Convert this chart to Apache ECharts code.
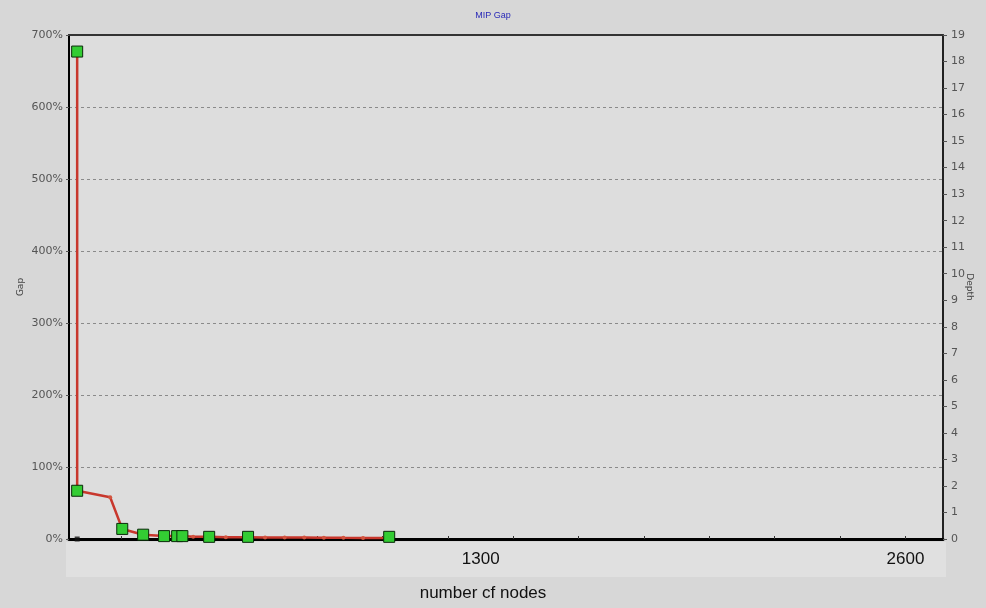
<!DOCTYPE html>
<html>
<head>
<meta charset="utf-8">
<script src="https://cdn.jsdelivr.net/npm/echarts@6/dist/echarts.min.js"></script>
<style>
html,body{margin:0;padding:0;background:#d7d7d7;}
#c{width:986px;height:608px;}
</style>
</head>
<body>
<div id="c"></div>
<script>
// ---- data ----
var lineNodes = [65, 65, 166, 203, 267, 331, 371, 387, 420, 469, 520, 588, 640, 700, 760, 820, 880, 940, 1020];
var lineGap   = [677, 67, 58, 14, 6, 4, 4, 4, 3, 3, 2.5, 2.5, 2, 2, 2, 1.8, 1.6, 1.5, 1.5];
var markerNodes = [65, 65, 203, 267, 331, 371, 387, 469, 588, 1020];
var markerGap   = [677, 67, 14, 6, 4, 4, 4, 3, 3, 3];
var depthNodes = [65];
var depthValues = [0];
var xTickValues = [200, 400, 600, 800, 1000, 1200, 1400, 1600, 1800, 2000, 2200, 2400, 2600];
var xLabelValues = [1300, 2600];
var gapTicks = [0, 100, 200, 300, 400, 500, 600, 700];
var depthTicks = [0,1,2,3,4,5,6,7,8,9,10,11,12,13,14,15,16,17,18,19];

function pairs(xs, ys){ return xs.map(function(x,i){ return [x, ys[i]]; }); }

var chart = echarts.init(document.getElementById('c'));
chart.setOption({
  backgroundColor: '#d7d7d7',
  animation: false,
  title: {
    text: 'MIP Gap', left: 'center', top: 6,
    textStyle: {fontSize: 9, fontWeight: 'normal', color: '#2a2ab8', fontFamily: 'Liberation Sans'}
  },
  graphic: [
    {type: 'rect', silent: true, z: -1, shape: {x: 66, y: 542, width: 880, height: 35}, style: {fill: '#e0e0e0'}},
    {type: 'text', silent: true, x: 483, y: 593, style: {text: 'number cf nodes', fontSize: 17, fontFamily: 'Liberation Sans', fill: '#111', align: 'center', verticalAlign: 'middle'}}
  ],
  grid: {left: 69, right: 43, top: 35, bottom: 69, show: true, backgroundColor: '#dddddd', borderWidth: 0,
    containLabel: false, outerBoundsMode: 'none'},
  xAxis: [{
    type: 'value', min: 40, max: 2715, position: 'bottom',
    axisLine: {show: true, lineStyle: {color: '#000', width: 3}},
    axisTick: {show: true, inside: true, length: 3, customValues: xTickValues, lineStyle: {color: '#333'}},
    axisLabel: {show: true, customValues: xLabelValues, fontSize: 17, color: '#111', fontFamily: 'Liberation Sans', margin: 12,
      formatter: function(v){ return String(v); }},
    splitLine: {show: false}
  }, {
    type: 'value', min: 40, max: 2715, position: 'top',
    axisLine: {show: true, onZero: false, lineStyle: {color: '#333', width: 2}},
    axisTick: {show: false}, axisLabel: {show: false}, splitLine: {show: false}
  }],
  yAxis: [{
    type: 'value', min: 0, max: 700, interval: 100, position: 'left',
    name: 'Gap', nameLocation: 'middle', nameGap: 44, nameRotate: 90, nameMoveOverlap: false,
    nameTextStyle: {fontSize: 9, color: '#444', fontFamily: 'DejaVu Sans'},
    axisLine: {show: true, lineStyle: {color: '#000', width: 2}},
    axisTick: {show: true, length: 3, lineStyle: {color: '#555'}},
    axisLabel: {fontSize: 11, color: '#555', fontFamily: 'DejaVu Sans', margin: 6,
      formatter: function(v){ return v + '%'; }},
    splitLine: {show: true, lineStyle: {color: '#8a8a8a', width: 1, type: [3, 3]}}
  }, {
    type: 'value', min: 0, max: 19, interval: 1, position: 'right',
    name: 'Depth', nameLocation: 'middle', nameGap: 22, nameRotate: -90, nameMoveOverlap: false,
    nameTextStyle: {fontSize: 9, color: '#444', fontFamily: 'DejaVu Sans'},
    axisLine: {show: true, lineStyle: {color: '#222', width: 2}},
    axisTick: {show: true, length: 4, lineStyle: {color: '#555'}},
    axisLabel: {fontSize: 11, color: '#555', fontFamily: 'DejaVu Sans', margin: 8},
    splitLine: {show: false}
  }],
  series: [{
    type: 'line', xAxisIndex: 0, yAxisIndex: 0,
    data: pairs(lineNodes, lineGap),
    symbol: 'circle', symbolSize: 4, showSymbol: true,
    itemStyle: {color: '#d2553f'},
    lineStyle: {color: '#c8372d', width: 2.5},
    z: 2
  }, {
    type: 'scatter', xAxisIndex: 0, yAxisIndex: 0,
    data: pairs(markerNodes, markerGap),
    symbol: 'rect', symbolSize: 11,
    itemStyle: {color: '#33cc33', borderColor: '#0a2a0a', borderWidth: 1, opacity: 1},
    z: 3
  }, {
    type: 'scatter', xAxisIndex: 0, yAxisIndex: 1,
    data: pairs(depthNodes, depthValues),
    symbol: 'rect', symbolSize: 5,
    itemStyle: {color: '#111'},
    z: 4
  }]
});
</script>
</body>
</html>
